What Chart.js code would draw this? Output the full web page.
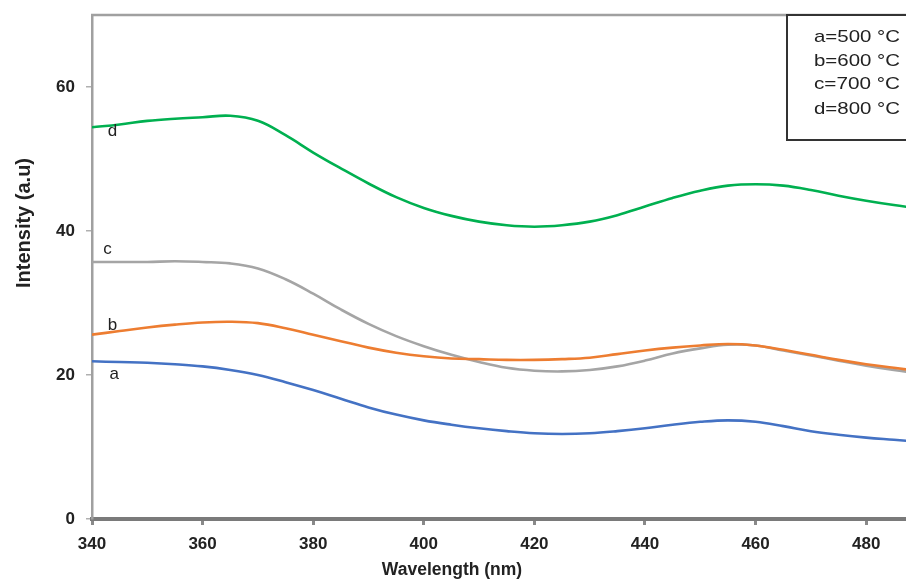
<!DOCTYPE html>
<html>
<head>
<meta charset="utf-8">
<script src="https://cdn.jsdelivr.net/npm/chart.js@4/dist/chart.umd.min.js"></script>
<style>
  html, body { margin: 0; padding: 0; background: #ffffff; }
  #wrap { width: 906px; height: 580px; position: relative; }
</style>
</head>
<body>
<div id="wrap"><canvas id="c" width="906" height="580"></canvas></div>
<script>
// ---- data ----
const wavelengths = [340,345,350,355,360,365,370,375,380,385,390,395,400,405,410,415,420,425,430,435,440,445,450,455,460,465,470,475,480,485,490];
const seriesA = [21.9,21.8,21.7,21.5,21.2,20.7,20.0,19.0,17.9,16.7,15.5,14.5,13.7,13.1,12.6,12.2,11.9,11.8,11.9,12.2,12.6,13.1,13.5,13.7,13.5,12.9,12.2,11.7,11.3,11.0,10.7];
const seriesB = [25.6,26.1,26.6,27.0,27.3,27.4,27.2,26.5,25.6,24.7,23.8,23.1,22.6,22.3,22.2,22.1,22.1,22.2,22.4,22.9,23.4,23.8,24.1,24.3,24.1,23.5,22.8,22.1,21.5,21.0,20.5];
const seriesC = [35.7,35.7,35.7,35.8,35.7,35.5,34.8,33.3,31.3,29.1,27.1,25.4,24.0,22.8,21.8,21.0,20.6,20.5,20.7,21.2,22.0,23.0,23.7,24.2,24.1,23.4,22.7,22.0,21.3,20.7,20.2];
const seriesD = [54.4,54.8,55.3,55.6,55.8,56.0,55.3,53.3,50.9,48.7,46.6,44.7,43.2,42.1,41.3,40.8,40.6,40.8,41.3,42.2,43.4,44.6,45.6,46.3,46.5,46.3,45.7,44.9,44.2,43.6,43.1];
const seriesNames = ['a','b','c','d'];
const legendLines = ['a=500 \u00B0C','b=600 \u00B0C','c=700 \u00B0C','d=800 \u00B0C'];
const xTicks = [340,360,380,400,420,440,460,480];
const yTicks = [0,20,40,60];
const xTitle = 'Wavelength (nm)';
const yTitle = 'Intensity (a.u)';

const colors = ['#4472C4','#ED7D31','#A5A5A5','#00B050'];
const allSeries = [seriesA, seriesB, seriesC, seriesD];

const datasets = allSeries.map((s, i) => ({
  label: seriesNames[i],
  data: wavelengths.map((w, k) => ({x: w, y: s[k]})),
  borderColor: colors[i],
  backgroundColor: colors[i],
  borderWidth: 2.6,
  pointRadius: 0,
  tension: 0.4,
  fill: false
}));

// label anchors (data coordinates) for the in-plot letters
const letterAnchors = [
  {t: 'a', x: 344.0, y: 20.1},
  {t: 'b', x: 343.7, y: 26.9},
  {t: 'c', x: 342.8, y: 37.4},
  {t: 'd', x: 343.7, y: 53.9}
];

const decorPlugin = {
  id: 'decor',
  beforeDatasetsDraw(chart) {
    const ctx = chart.ctx, a = chart.chartArea;
    ctx.save();
    ctx.strokeStyle = '#A0A0A0';
    ctx.lineWidth = 2.5;
    ctx.beginPath();
    ctx.moveTo(a.left - 1, a.top);
    ctx.lineTo(a.right + 2, a.top);
    ctx.stroke();
    ctx.restore();
  },
  afterDraw(chart) {
    const ctx = chart.ctx;
    const xs = chart.scales.x, ys = chart.scales.y;
    ctx.save();
    // letters on curves
    ctx.fillStyle = '#222';
    ctx.font = '17px "Liberation Sans", Arial, sans-serif';
    ctx.textAlign = 'center';
    ctx.textBaseline = 'middle';
    letterAnchors.forEach(l => {
      ctx.fillText(l.t, xs.getPixelForValue(l.x), ys.getPixelForValue(l.y));
    });
    // legend box
    ctx.fillStyle = '#fff';
    ctx.fillRect(787, 15, 130, 125);
    ctx.strokeStyle = '#333';
    ctx.lineWidth = 2;
    ctx.strokeRect(787, 15, 130, 125);
    ctx.fillStyle = '#222';
    ctx.font = '17px "Liberation Sans", Arial, sans-serif';
    ctx.textAlign = 'left';
    ctx.textBaseline = 'alphabetic';
    const baselines = [42, 66, 89, 114];
    legendLines.forEach((t, i) => {
      const w = ctx.measureText(t).width;
      const sx = 86 / w;
      ctx.save();
      ctx.translate(814, baselines[i]);
      ctx.scale(sx, 1);
      ctx.fillText(t, 0, 0);
      ctx.restore();
    });
    // axis titles
    ctx.fillStyle = '#222';
    ctx.font = 'bold 17.5px "Liberation Sans", Arial, sans-serif';
    ctx.textAlign = 'center';
    ctx.textBaseline = 'alphabetic';
    ctx.fillText(xTitle, 452, 575);
    ctx.save();
    ctx.translate(30, 223);
    ctx.rotate(-Math.PI / 2);
    ctx.font = 'bold 20px "Liberation Sans", Arial, sans-serif';
    ctx.fillText(yTitle, 0, 0);
    ctx.restore();
    ctx.restore();
  }
};

new Chart(document.getElementById('c'), {
  type: 'line',
  data: { datasets },
  options: {
    responsive: false,
    animation: false,
    devicePixelRatio: 1,
    layout: { padding: { left: 0, top: 15, right: 0, bottom: 0 } },
    plugins: { legend: { display: false }, tooltip: { enabled: false } },
    scales: {
      x: {
        type: 'linear',
        min: 340,
        max: 487.2,
        afterBuildTicks(scale) { scale.ticks = xTicks.map(v => ({value: v})); },
        afterFit(scale) { scale.height = 61; scale.paddingLeft = 0; scale.paddingRight = 0; },
        ticks: {
          font: { family: '"Liberation Sans", Arial, sans-serif', size: 17, weight: 'bold' },
          color: '#222',
          padding: 9,
          maxRotation: 0
        },
        grid: { drawOnChartArea: false, drawTicks: true, tickLength: 6, color: '#8a8a8a', lineWidth: 3 },
        border: { display: true, color: '#7a7a7a', width: 4 }
      },
      y: {
        type: 'linear',
        min: 0,
        max: 70,
        afterBuildTicks(scale) { scale.ticks = yTicks.map(v => ({value: v})); },
        afterFit(scale) { scale.width = 92; scale.paddingTop = 0; scale.paddingBottom = 0; },
        ticks: {
          font: { family: '"Liberation Sans", Arial, sans-serif', size: 17, weight: 'bold' },
          color: '#222',
          padding: 11
        },
        grid: { drawOnChartArea: false, drawTicks: true, tickLength: 6, color: '#b0b0b0', lineWidth: 1.5 },
        border: { display: true, color: '#A0A0A0', width: 2.5 }
      }
    }
  },
  plugins: [decorPlugin]
});
</script>
</body>
</html>
